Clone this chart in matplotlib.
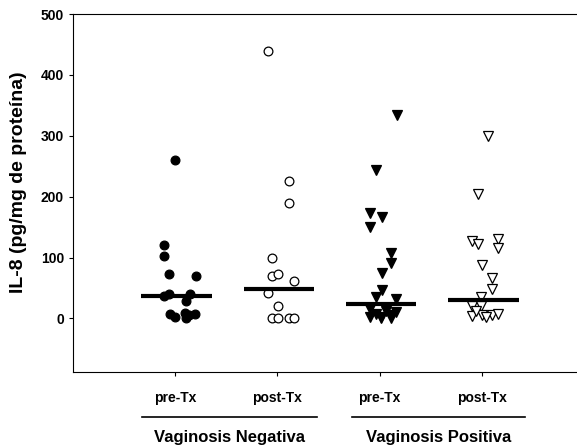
import numpy as np
import matplotlib
matplotlib.use('Agg')
import matplotlib.pyplot as plt
import matplotlib.transforms as mtransforms

plt.rcParams['font.family'] = ['Liberation Sans', 'DejaVu Sans']
plt.rcParams['font.weight'] = 'bold'

tick_labels = ['pre-Tx', 'post-Tx', 'pre-Tx', 'post-Tx']
group_labels = ['Vaginosis Negativa', 'Vaginosis Positiva']

# IL-8 values, one list per column
neg_pre = [260, 121, 103, 73, 70, 40, 37, 40, 28, 8, 3, 9, 0, 8, 5]
neg_post = [439, 225, 189, 99, 69, 73, 62, 41, 21, 0, 0, 0, 0]
pos_pre = [334, 244, 173, 167, 150, 107, 91, 74, 47, 35, 32, 15, 8, 3, 12, 5, 10, 2, 0, 0]
pos_post = [300, 205, 128, 123, 130, 115, 87, 67, 49, 36, 21, 21, 4, 5, 6, 8, 12, 2]
medians = [37, 49, 24, 30]

# horizontal scatter of the points around each column
neg_pre_dx = [0.0, -0.11, -0.11, -0.06, 0.2, -0.06, -0.11, 0.14, 0.11, -0.05, 0.0, 0.1, 0.11, 0.19, 0.13]
neg_post_dx = [-0.09, 0.11, 0.11, -0.05, -0.05, 0.01, 0.16, -0.09, 0.01, -0.05, 0.01, 0.11, 0.16]
pos_pre_dx = [0.17, -0.04, -0.09, 0.02, -0.09, 0.11, 0.11, 0.02, 0.02, -0.04, 0.16,
              -0.09, -0.04, 0.01, 0.06, 0.11, 0.16, -0.09, 0.01, 0.11]
pos_post_dx = [0.06, -0.04, -0.1, -0.04, 0.16, 0.16, 0.0, 0.1, 0.1, -0.01, -0.1, -0.01,
               -0.1, 0.0, 0.1, 0.16, -0.06, 0.04]

fig = plt.figure(figsize=(5.77, 4.48), dpi=100)
ax = fig.add_axes([0.1265, 0.1696, 0.8735, 0.7991])

groups = [(neg_pre, neg_pre_dx, 'o', 'black', 6.3),
          (neg_post, neg_post_dx, 'o', 'white', 6.3),
          (pos_pre, pos_pre_dx, 'v', 'black', 6.5),
          (pos_post, pos_post_dx, 'v', 'white', 6.5)]

for i, (vals, dx, mk, fc, ms) in enumerate(groups):
    x = i + 1 + np.array(dx)
    ax.plot(x, vals, linestyle='none', marker=mk, markersize=ms,
            markerfacecolor=fc, markeredgecolor='black', markeredgewidth=0.9, zorder=3)
    ax.plot([i + 1 - 0.33, i + 1 + 0.36], [medians[i], medians[i]],
            color='black', linewidth=3.0, solid_capstyle='butt', zorder=4)

ax.set_xlim(0, 4.93)
ax.set_ylim(-88, 500)
ax.set_yticks([0, 100, 200, 300, 400, 500])
ax.set_xticks([1, 2, 3, 4])
ax.set_xticklabels(tick_labels, fontsize=10, fontweight='bold')
ax.tick_params(axis='y', labelsize=10, length=3, width=0.8)
ax.tick_params(axis='x', length=3, width=0.8, pad=11)
for lab in ax.get_yticklabels():
    lab.set_fontweight('bold')
ax.spines['right'].set_visible(False)
for s in ['left', 'top', 'bottom']:
    ax.spines[s].set_linewidth(0.8)

ax.set_ylabel('IL-8 (pg/mg de proteína)', fontsize=14, fontweight='bold')
ax.yaxis.set_label_coords(-0.092, 0.53)

# group brackets below the tick labels
trans = mtransforms.blended_transform_factory(ax.transData, fig.transFigure)
spans = [(0.675, 2.39), (2.73, 4.42)]
for (a, b), lab in zip(spans, group_labels):
    ax.plot([a, b], [0.069, 0.069], color='black', linewidth=1.2,
            transform=trans, clip_on=False)
    ax.text((a + b) / 2, 0.024, lab, transform=trans, ha='center', va='center',
            fontsize=12, fontweight='bold')

plt.savefig('out.png', dpi=100)
